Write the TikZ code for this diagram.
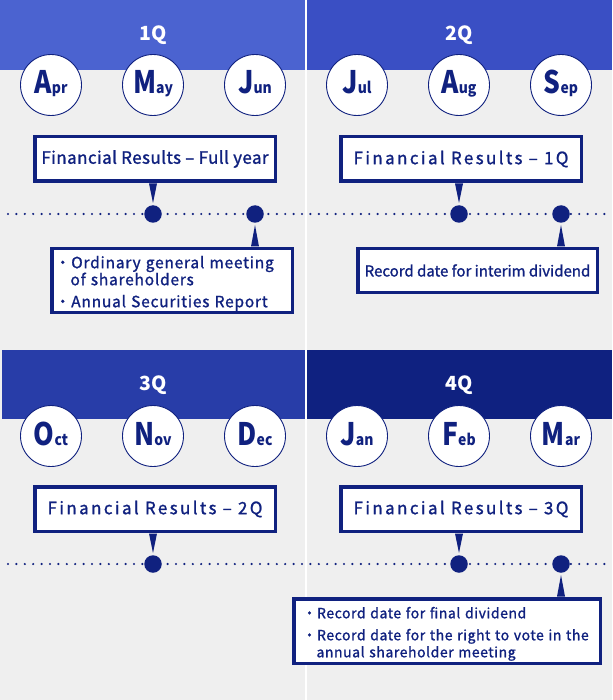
\documentclass[tikz,border=0pt]{standalone}
\usepackage{graphicx}
\usepackage{fontspec}
\setmainfont{Noto Sans CJK JP}
\usetikzlibrary{calc}
\definecolor{bggray}{HTML}{EFEFEF}
\definecolor{navy}{HTML}{10217F}
\definecolor{qa}{HTML}{4B63D0}
\definecolor{qb}{HTML}{3A4FC4}
\definecolor{qc}{HTML}{283DA8}
\definecolor{qd}{HTML}{0F2180}
\newcommand\monthtxt[2]{\scalebox{0.85}[1]{\fontsize{31}{31}\selectfont\bfseries #1}\scalebox{0.9}[1]{\fontsize{15.5}{15.5}\selectfont\bfseries #2}}
\newcommand\jdot{・}
\begin{document}
\begin{tikzpicture}[x=1pt,y=-1pt,
  month/.style={circle, draw=navy, line width=0.9pt, fill=white, minimum size=61pt, inner sep=0pt, text=navy, text height=20pt, text depth=2pt},
  frbox/.style={draw=navy, line width=3.5pt, fill=white, minimum width=240.5pt, minimum height=44.5pt, inner sep=0pt, text=navy},
  frfont/.style={font=\fontsize{17}{17}\selectfont\addfontfeature{FakeBold=1.2,LetterSpace=#1}},
  infobox/.style={draw=navy, line width=3.5pt, fill=white, inner ysep=0pt, text=navy, align=left},
  evdot/.style={circle, fill=navy, minimum size=17.5pt, inner sep=0pt},
  qlabel/.style={text=white, font=\fontsize{19.5}{20}\selectfont\bfseries},
  timeline/.style={navy, line width=2.4pt, line cap=round, dash pattern=on 0pt off 8.4pt},
  pointer/.style={fill=navy}]
\useasboundingbox (0,0) rectangle (612,700);
% background and headers
\fill[bggray] (0,0) rectangle (612,700);
\fill[qa] (0,0) rectangle (305,70);
\fill[qb] (307,0) rectangle (612,70);
\fill[qc] (2,350) rectangle (305,419);
\fill[qd] (307,350) rectangle (612,419);
% timelines
\coordinate (ta) at (8,214);
\coordinate (tb) at (612,214);
\coordinate (tc) at (8,564);
\coordinate (td) at (612,564);
\draw[timeline] (ta) -- (tb);
\draw[timeline] (tc) -- (td);
% separator
\fill[white] (305,0) rectangle (307,700);
% quarter labels
\node[qlabel] (q1) at (153,35) {1Q};
\node[qlabel] (q2) at (459,35) {2Q};
\node[qlabel] (q3) at (153,385) {3Q};
\node[qlabel] (q4) at (459,385) {4Q};
% months
\node[month] (apr) at (51,85) {\monthtxt{A}{pr}};
\node[month] (may) at (153,85) {\monthtxt{M}{ay}};
\node[month] (jun) at (255,85) {\monthtxt{J}{un}};
\node[month] (jul) at (357,85) {\monthtxt{J}{ul}};
\node[month] (aug) at (459,85) {\monthtxt{A}{ug}};
\node[month] (sep) at (561,85) {\monthtxt{S}{ep}};
\node[month] (oct) at (51,436) {\monthtxt{O}{ct}};
\node[month] (nov) at (153,436) {\monthtxt{N}{ov}};
\node[month] (dec) at (255,436) {\monthtxt{D}{ec}};
\node[month] (jan) at (357,436) {\monthtxt{J}{an}};
\node[month] (feb) at (459,436) {\monthtxt{F}{eb}};
\node[month] (mar) at (561,436) {\monthtxt{M}{ar}};
% event dots
\node[evdot] (d1) at (153,214) {};
\node[evdot] (d2) at (255,214) {};
\node[evdot] (d3) at (459,214) {};
\node[evdot] (d4) at (561,214) {};
\node[evdot] (d5) at (153,564) {};
\node[evdot] (d6) at (459,564) {};
\node[evdot] (d7) at (561,564) {};
% boxes
\node[frbox, frfont=2.5] (fr1) at (155,159) {Financial Results – Full year};
\node[frbox, frfont=14] (fr2) at (461,159) {Financial Results – 1Q};
\node[frbox, frfont=14] (fr3) at (155,509) {Financial Results – 2Q};
\node[frbox, frfont=14] (fr4) at (461,509) {Financial Results – 3Q};
\node[infobox, minimum width=240.5pt, minimum height=63.5pt, inner xsep=3pt, text width=234pt,
      font=\fontsize{15.5}{17}\selectfont\addfontfeature{FakeBold=1.2,LetterSpace=5}] (tlb) at (172,280.5)
  {\rule{0pt}{18pt}\jdot Ordinary general meeting\\\hphantom{\jdot}of shareholders\\[5pt]\jdot Annual Securities Report};
\node[infobox, minimum width=239.5pt, minimum height=43.5pt, inner xsep=0pt,
      font=\fontsize{15}{17}\selectfont\addfontfeature{FakeBold=1.2,LetterSpace=0}] (trb) at (477.5,270.5)
  {Record date for interim dividend};
\node[infobox, minimum width=306.5pt, minimum height=64.5pt, inner xsep=8.5pt, text width=289pt,
      font=\fontsize{14}{17}\selectfont\addfontfeature{FakeBold=1.2,LetterSpace=4}] (brb) at (447,631)
  {\rule{0pt}{17pt}\jdot Record date for final dividend\\[5pt]\jdot Record date for the right to vote in the\\\hphantom{\jdot}annual shareholder meeting};
% pointers
\fill[pointer] ($(fr1.south -| d1)+(-4,0.5)$) -- ($(fr1.south -| d1)+(4,0.5)$) -- ($(d1.center)+(0,-11)$) -- cycle;
\fill[pointer] ($(fr2.south -| d3)+(-4,0.5)$) -- ($(fr2.south -| d3)+(4,0.5)$) -- ($(d3.center)+(0,-11)$) -- cycle;
\fill[pointer] ($(fr3.south -| d5)+(-4,0.5)$) -- ($(fr3.south -| d5)+(4,0.5)$) -- ($(d5.center)+(0,-11)$) -- cycle;
\fill[pointer] ($(fr4.south -| d6)+(-4,0.5)$) -- ($(fr4.south -| d6)+(4,0.5)$) -- ($(d6.center)+(0,-11)$) -- cycle;
\fill[pointer] ($(tlb.north -| d2)+(-4,-0.5)$) -- ($(tlb.north -| d2)+(4,-0.5)$) -- ($(d2.center)+(0,11)$) -- cycle;
\fill[pointer] ($(trb.north -| d4)+(-4,-0.5)$) -- ($(trb.north -| d4)+(4,-0.5)$) -- ($(d4.center)+(0,11)$) -- cycle;
\fill[pointer] ($(brb.north -| d7)+(-4,-0.5)$) -- ($(brb.north -| d7)+(4,-0.5)$) -- ($(d7.center)+(0,11)$) -- cycle;
\end{tikzpicture}
\end{document}
